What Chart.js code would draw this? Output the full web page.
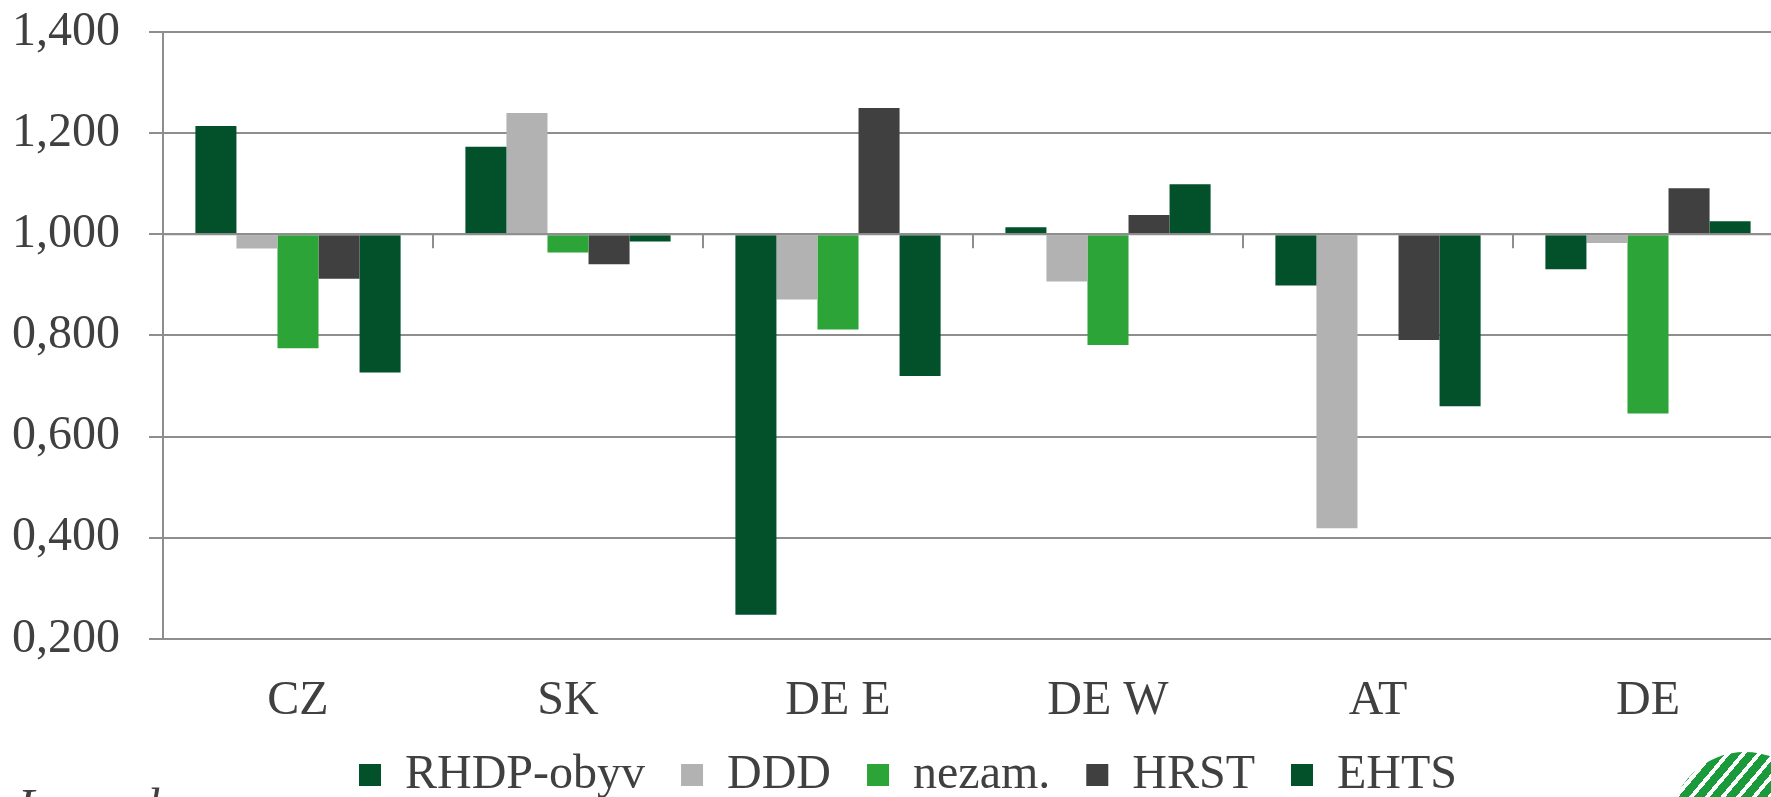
<!DOCTYPE html>
<html lang="cs">
<head>
<meta charset="utf-8">
<title>Indexy regionů</title>
<script src="https://cdn.jsdelivr.net/npm/chart.js@4/dist/chart.umd.min.js"></script>
<style>
  html, body { margin: 0; padding: 0; background: #fff; overflow: hidden; }
  #cadre { position: relative; width: 1800px; height: 797px; }
  #poznamka {
    position: absolute; left: 18px; top: 782px;
    font: italic 48px/48px 'Liberation Serif', 'Times New Roman', serif; color: #404040;
  }
  #logo {
    position: absolute; left: 1670px; top: 752px; width: 150px; height: 150px; border-radius: 50%;
    background: repeating-linear-gradient(-50deg, #1a9a3a 0 8px, #fff 8px 12px);
  }
</style>
</head>
<body>
<div id="cadre">
  <canvas id="graf"></canvas>
  <div id="poznamka">Legenda</div>
  <div id="logo"></div>
</div>
<script>
const kategorie = ['CZ', 'SK', 'DE E', 'DE W', 'AT', 'DE'];
const rhdpObyv  = [1.214, 1.173, 0.248, 1.014, 0.899, 0.931];
const ddd       = [0.972, 1.240, 0.871, 0.907, 0.419, 0.983];
const nezam     = [0.775, 0.964, 0.812, 0.781, 0.998, 0.646];
const hrst      = [0.912, 0.941, 1.250, 1.038, 0.791, 1.091];
const ehts      = [0.727, 0.986, 0.720, 1.099, 0.660, 1.026];
const yTicks    = [0.2, 0.4, 0.6, 0.8, 1.0, 1.2, 1.4];

const pismo = "'Liberation Serif', 'Times New Roman', serif";
const sedaText = '#404040';
const sedaMrizka = '#8e8e8e';

// osa v hodnote 1 s carkami mezi kategoriemi
const osaZaklad = {
  id: 'osaZaklad',
  afterDatasetsDraw(chart) {
    const { ctx, scales: { x, y } } = chart;
    const yb = y.getPixelForValue(1);
    const pas = (x.right - x.left) / kategorie.length;
    ctx.save();
    ctx.strokeStyle = sedaMrizka;
    ctx.lineWidth = 2;
    ctx.beginPath();
    ctx.moveTo(x.left, yb);
    ctx.lineTo(x.right, yb);
    for (let i = 0; i <= kategorie.length; i++) {
      const px = x.left + i * pas;
      ctx.moveTo(px, yb);
      ctx.lineTo(px, yb + 14);
    }
    ctx.stroke();
    ctx.restore();
  }
};

// legenda trochu doprava
const posunLegendy = {
  id: 'posunLegendy',
  afterLayout(chart) {
    chart.legend.left += 25;
    chart.legend.right += 25;
  }
};

const serie = (label, data, barva) => ({
  label, data, base: 1,
  backgroundColor: barva,
  borderWidth: 0,
  categoryPercentage: 0.76,
  barPercentage: 1.0
});

new Chart(document.getElementById('graf'), {
  type: 'bar',
  data: {
    labels: kategorie,
    datasets: [
      serie('RHDP-obyv', rhdpObyv, '#03512a'),
      serie('DDD', ddd, '#b2b2b2'),
      serie('nezam.', nezam, '#2ca437'),
      serie('HRST', hrst, '#404040'),
      serie('EHTS', ehts, '#03512a')
    ]
  },
  options: {
    responsive: true,
    maintainAspectRatio: false,
    animation: false,
    layout: { padding: { left: -17, right: 17, top: 32, bottom: -12 } },
    plugins: {
      tooltip: { enabled: false },
      legend: {
        position: 'bottom',
        labels: {
          boxWidth: 22, boxHeight: 22, padding: 36,
          color: sedaText,
          font: { family: pismo, size: 48 }
        }
      }
    },
    scales: {
      x: {
        grid: { display: false },
        border: { display: false },
        afterFit: (axis) => { axis.height = 76; axis.paddingLeft = 0; axis.paddingRight = 0; },
        ticks: { color: sedaText, padding: 26, font: { family: pismo, size: 48 } }
      },
      y: {
        min: 0.2, max: 1.4,
        afterBuildTicks: (axis) => { axis.ticks = yTicks.map(v => ({ value: v })); },
        afterFit: (axis) => { axis.paddingTop = 0; axis.paddingBottom = 0; },
        grid: { color: sedaMrizka, lineWidth: 2, tickLength: 14 },
        border: { color: sedaMrizka, width: 2 },
        ticks: {
          color: sedaText, padding: 29,
          font: { family: pismo, size: 48 },
          callback: (v) => v.toFixed(3).replace('.', ',')
        }
      }
    }
  },
  plugins: [osaZaklad, posunLegendy]
});
</script>
</body>
</html>
